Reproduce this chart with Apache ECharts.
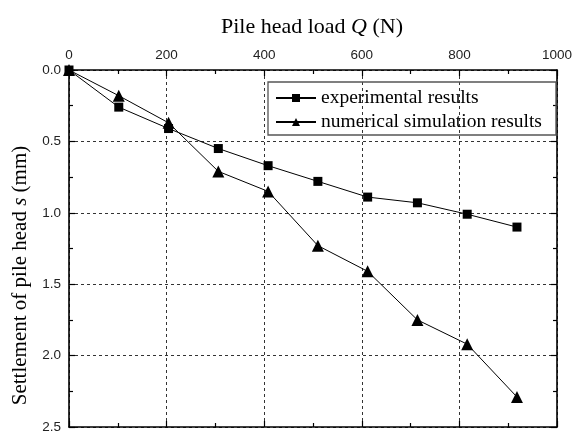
<!DOCTYPE html>
<html>
<head>
<meta charset="utf-8">
<script src="https://cdn.jsdelivr.net/npm/echarts@6/dist/echarts.min.js"></script>
<style>html,body{margin:0;padding:0;background:#fff;}#c{width:575px;height:434px;}</style>
</head>
<body>
<div id="c"></div>
<script>
var loads = [0, 102, 204, 306, 408, 510, 612, 714, 816, 918];
var experimental = [0, 0.26, 0.41, 0.55, 0.67, 0.78, 0.89, 0.93, 1.01, 1.10];
var numerical = [0, 0.18, 0.37, 0.71, 0.85, 1.23, 1.41, 1.75, 1.92, 2.29];
var seriesNames = ['experimental results', 'numerical simulation results'];
var xTitle = 'Pile head load {i|Q} (N)';
var yTitle = 'Settlement of pile head {i|s} (mm)';

function pairs(xs, ys){ return xs.map(function(x,i){ return [x, ys[i]]; }); }

var chart = echarts.init(document.getElementById('c'), null, {renderer:'canvas'});
var axisLine = {show:true, onZero:false, lineStyle:{color:'#000', width:1.6}};
var serif = '"Liberation Serif","Times New Roman",serif';
var sans = '"Liberation Sans",Arial,sans-serif';
var tick = {show:true, inside:true, length:6, lineStyle:{color:'#000', width:1.2}};
var minor = {show:true, splitNumber:2, length:4, lineStyle:{color:'#000', width:1.2}};
chart.setOption({
  animation:false,
  backgroundColor:'#fff',
  grid:{left:69, right:13, top:70, bottom:4, containLabel:false},
  legend:{
    orient:'vertical', left:268, top:82,
    padding:[6,14,3,7], itemGap:4, itemWidth:40, itemHeight:10,
    borderColor:'#555', borderWidth:1.3,
    textStyle:{fontFamily:serif, fontSize:19.5, color:'#000'},
    data:seriesNames
  },
  xAxis:[{
    type:'value', position:'top', min:0, max:1000, interval:200,
    name:xTitle, nameLocation:'middle', nameGap:32,
    nameTextStyle:{fontFamily:serif, fontSize:22, color:'#000', padding:[0,2,0,0], rich:{i:{fontFamily:serif, fontSize:22, fontStyle:'italic', color:'#000'}}},
    axisLine:axisLine, axisTick:tick, minorTick:minor,
    axisLabel:{fontFamily:sans, fontSize:13.5, color:'#222', margin:8, formatter:function(v){return String(v);}},
    splitLine:{show:true, lineStyle:{color:'#333', type:[3,3], width:1}}
  },{
    type:'value', position:'bottom', min:0, max:1000, interval:200,
    axisLine:axisLine, axisTick:tick, minorTick:minor,
    axisLabel:{show:false}, splitLine:{show:false}
  }],
  yAxis:[{
    type:'value', inverse:true, min:0, max:2.5, interval:0.5,
    name:yTitle, nameLocation:'middle', nameGap:37, nameRotate:90,
    nameTextStyle:{fontFamily:serif, fontSize:21, color:'#000', padding:[0,54,0,0], rich:{i:{fontFamily:serif, fontSize:21, fontStyle:'italic', color:'#000'}}},
    axisLine:axisLine, axisTick:tick, minorTick:minor,
    axisLabel:{fontFamily:sans, fontSize:13.5, color:'#222', margin:8, formatter:function(v){return v.toFixed(1);}},
    splitLine:{show:true, lineStyle:{color:'#333', type:[3,3], width:1}}
  },{
    type:'value', position:'right', inverse:true, min:0, max:2.5, interval:0.5,
    axisLine:axisLine, axisTick:tick, minorTick:minor,
    axisLabel:{show:false}, splitLine:{show:false}
  }],
  series:[{
    name:seriesNames[0], type:'line', data:pairs(loads, experimental),
    symbol:'rect', symbolSize:9,
    lineStyle:{color:'#000', width:1}, itemStyle:{color:'#000'}
  },{
    name:seriesNames[1], type:'line', data:pairs(loads, numerical),
    symbol:'triangle', symbolSize:12,
    lineStyle:{color:'#000', width:1}, itemStyle:{color:'#000'}
  }]
});
</script>
</body>
</html>
